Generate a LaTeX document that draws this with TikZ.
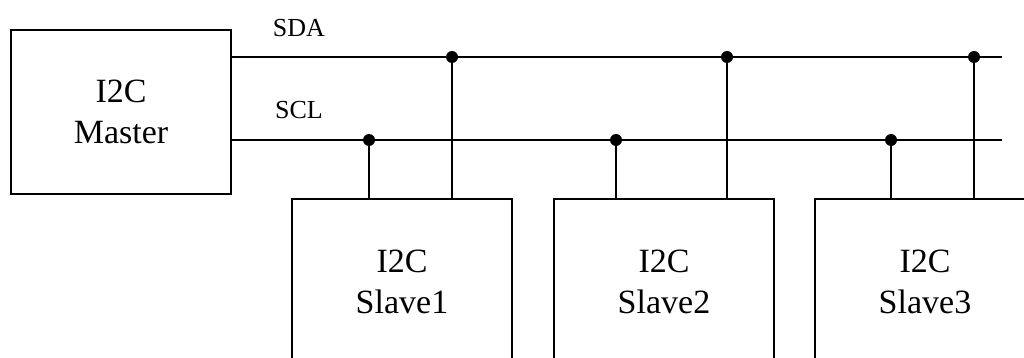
\documentclass[tikz,border=0pt]{standalone}
\usepackage{fontspec}
\setmainfont{Liberation Serif}
\begin{document}
\begin{tikzpicture}[x=1pt,y=-1pt,
  unit/.style={draw,line width=2.6pt,minimum width=220pt,inner sep=0pt},
  caption/.style={align=center,font=\fontsize{34}{41}\selectfont,inner sep=0pt},
  bus/.style={line width=2.6pt},
  buslabel/.style={font=\fontsize{26}{30}\selectfont,anchor=base,inner sep=0pt},
  tap/.style={circle,fill=black,inner sep=0pt,minimum size=12pt}]
  \useasboundingbox (0,0) rectangle (1024,358);
  \clip (0,0) rectangle (1024,358);

  % controller
  \node[unit,minimum height=164pt] (master) at (121,112) {};
  \node[caption] (tm) at (121,112) {I2C\\Master};

  % devices on the bus (they run past the lower edge)
  \node[unit,minimum height=240pt] (s1) at (402,319) {};
  \node[unit,minimum height=240pt] (s2) at (664,319) {};
  \node[unit,minimum height=240pt] (s3) at (925,319) {};
  \node[caption] (t1) at (402,282) {I2C\\Slave1};
  \node[caption] (t2) at (664,282) {I2C\\Slave2};
  \node[caption] (t3) at (925,282) {I2C\\Slave3};

  % bus lines
  \coordinate (sdaA) at (master.east |- 0,57);
  \coordinate (sclA) at (master.east |- 0,140);
  \coordinate (sdaB) at (1002,57);
  \coordinate (sclB) at (1002,140);
  \draw[bus] (sdaA) -- (sdaB);
  \draw[bus] (sclA) -- (sclB);
  \node[buslabel] (sda) at (299,37) {SDA};
  \node[buslabel] (scl) at (299,119) {SCL};

  % taps
  \node[tap] (c1) at (369,140) {};
  \node[tap] (d1) at (452,57) {};
  \node[tap] (c2) at (616,140) {};
  \node[tap] (d2) at (727,57) {};
  \node[tap] (c3) at (891,140) {};
  \node[tap] (d3) at (974,57) {};

  \draw[bus] (c1.center) -- (c1 |- s1.north);
  \draw[bus] (d1.center) -- (d1 |- s1.north);
  \draw[bus] (c2.center) -- (c2 |- s2.north);
  \draw[bus] (d2.center) -- (d2 |- s2.north);
  \draw[bus] (c3.center) -- (c3 |- s3.north);
  \draw[bus] (d3.center) -- (d3 |- s3.north);
\end{tikzpicture}
\end{document}
